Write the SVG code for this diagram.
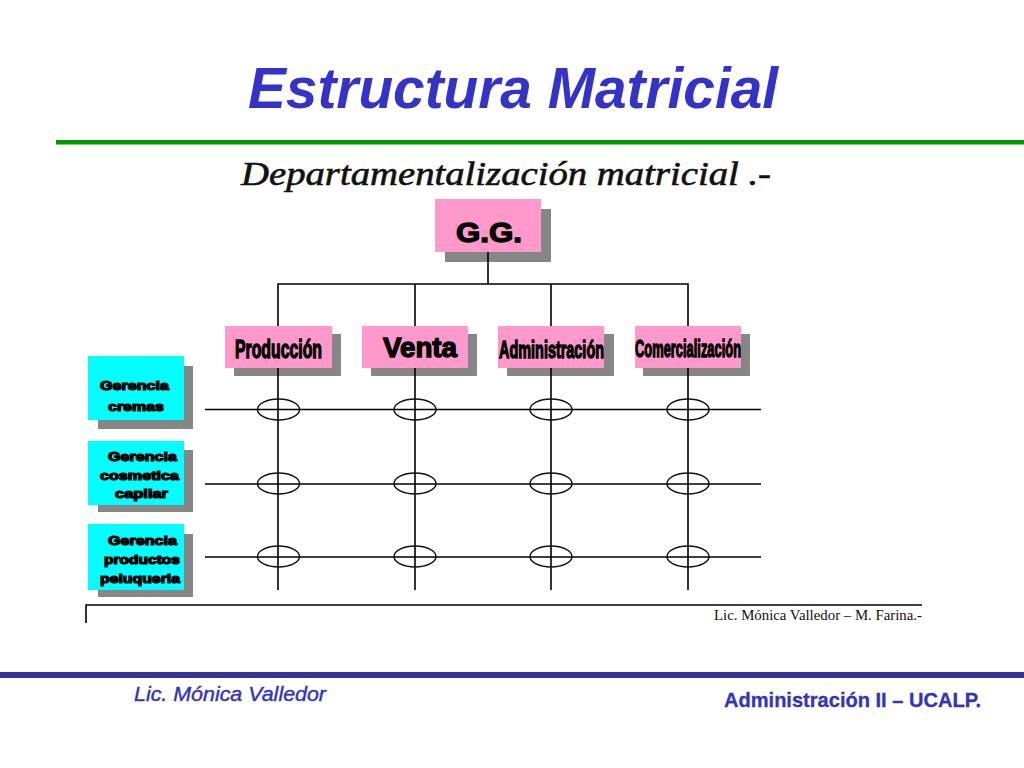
<svg xmlns="http://www.w3.org/2000/svg" width="1024" height="768" viewBox="0 0 1024 768">
<style>
.s{fill:#868686}
.p{fill:#ff99cc}
.c{fill:#00ffff}
.k{fill:none;stroke:#000;stroke-width:1.6}
.e{fill:none;stroke:#111;stroke-width:1.5}
text{font-family:"Liberation Sans",Arial,sans-serif}
.h{font-weight:bold;fill:#000;stroke:#000;stroke-width:1.3}
.g{font-weight:bold;font-size:13px;fill:#000;stroke:#000;stroke-width:1.2}
</style>
<rect width="1024" height="768" fill="#fff"/>
<text id="title" x="248" y="108" font-size="57" font-weight="bold" font-style="italic" fill="#3333cc" textLength="530" lengthAdjust="spacingAndGlyphs">Estructura Matricial</text>
<rect x="56" y="140" width="968" height="4.500" fill="#009900"/>
<text id="subtitle" x="241" y="185" font-size="34" font-style="italic" fill="#111" stroke="#111" stroke-width=".6" style="font-family:'Liberation Serif',serif" textLength="530" lengthAdjust="spacingAndGlyphs">Departamentalización matricial .-</text>

<g id="gg">
<rect class="s" x="445" y="209" width="106" height="53"/><rect class="p" x="435" y="199" width="106" height="53"/>
<text class="h" x="456" y="242" font-size="27" textLength="66" lengthAdjust="spacingAndGlyphs">G.G.</text>
</g>
<g id="produccion">
<rect class="s" x="234" y="334" width="107" height="42"/><rect class="p" x="225" y="326" width="107" height="42"/>
<text class="h" transform="translate(235 358) scale(.6 1)" font-size="25" textLength="145" lengthAdjust="spacingAndGlyphs">Producción</text>
</g>
<g id="venta">
<rect class="s" x="371" y="334" width="106" height="42"/><rect class="p" x="362" y="326" width="106" height="42"/>
<text class="h" x="383" y="357" font-size="27" textLength="74" lengthAdjust="spacingAndGlyphs">Venta</text>
</g>
<g id="administracion">
<rect class="s" x="507" y="334" width="107" height="42"/><rect class="p" x="498" y="326" width="106" height="42"/>
<text class="h" transform="translate(499 358) scale(.6 1)" font-size="24" textLength="175" lengthAdjust="spacingAndGlyphs">Administración</text>
</g>
<g id="comercializacion">
<rect class="s" x="643" y="334" width="107" height="42"/><rect class="p" x="635" y="326" width="106" height="42"/>
<text class="h" transform="translate(635 357) scale(.558 1)" font-size="23" textLength="190" lengthAdjust="spacingAndGlyphs">Comercialización</text>
</g>

<g id="gerencia-cremas">
<rect class="s" x="98" y="366" width="95" height="63"/><rect class="c" x="88" y="356" width="96" height="64"/>
<text class="g" x="100" y="390" textLength="69" lengthAdjust="spacingAndGlyphs">Gerencia</text>
<text class="g" x="108" y="411" textLength="56" lengthAdjust="spacingAndGlyphs">cremas</text>
</g>
<g id="gerencia-cosmetica">
<rect class="s" x="98" y="450" width="95" height="62"/><rect class="c" x="88" y="441" width="96" height="64"/>
<text class="g" x="108" y="461" textLength="69" lengthAdjust="spacingAndGlyphs">Gerencia</text>
<text class="g" x="100" y="480" textLength="79" lengthAdjust="spacingAndGlyphs">cosmetica</text>
<text class="g" x="115" y="498" textLength="53" lengthAdjust="spacingAndGlyphs">capilar</text>
</g>
<g id="gerencia-productos">
<rect class="s" x="98" y="534" width="95" height="63"/><rect class="c" x="88" y="524" width="96" height="66"/>
<text class="g" x="108" y="545" textLength="69" lengthAdjust="spacingAndGlyphs">Gerencia</text>
<text class="g" x="104" y="564" textLength="76" lengthAdjust="spacingAndGlyphs">productos</text>
<text class="g" x="100" y="583" textLength="80" lengthAdjust="spacingAndGlyphs">peluqueria</text>
</g>

<g id="connectors">
<path class="k" d="M488 252V284M278 326V284H688V326M415 284V326M551 284V326"/>
<path class="k" d="M278 368V590M415 368V590M551 368V590M688 368V590"/>
<path class="k" d="M205 409.500H761M205 484H761M205 557H761"/>
<path class="k" d="M86 623V605H922"/>
<g class="e">
<ellipse cx="278.500" cy="409.500" rx="21" ry="10.500"/><ellipse cx="415" cy="409.500" rx="21" ry="10.500"/><ellipse cx="551" cy="409.500" rx="21" ry="10.500"/><ellipse cx="688" cy="409.500" rx="21" ry="10.500"/>
<ellipse cx="278.500" cy="483.500" rx="21" ry="10.500"/><ellipse cx="415" cy="483.500" rx="21" ry="10.500"/><ellipse cx="551" cy="483.500" rx="21" ry="10.500"/><ellipse cx="688" cy="483.500" rx="21" ry="10.500"/>
<ellipse cx="278.500" cy="556.500" rx="21" ry="10.500"/><ellipse cx="415" cy="556.500" rx="21" ry="10.500"/><ellipse cx="551" cy="556.500" rx="21" ry="10.500"/><ellipse cx="688" cy="556.500" rx="21" ry="10.500"/>
</g>
</g>

<text id="credit" x="714" y="620" font-size="14" fill="#111" style="font-family:'Liberation Serif',serif" textLength="208" lengthAdjust="spacingAndGlyphs">Lic. Mónica Valledor – M. Farina.-</text>

<rect x="0" y="672" width="1024" height="6" fill="#333399"/>
<text id="footer-left" x="134" y="701" font-size="20" font-style="italic" fill="#3333bb" stroke="#3333bb" stroke-width=".4" textLength="192" lengthAdjust="spacingAndGlyphs">Lic. Mónica Valledor</text>
<text id="footer-right" x="724" y="707" font-size="21" font-weight="bold" fill="#3333bb" stroke="#3333bb" stroke-width=".3" textLength="257" lengthAdjust="spacingAndGlyphs">Administración II – UCALP.</text>
</svg>
